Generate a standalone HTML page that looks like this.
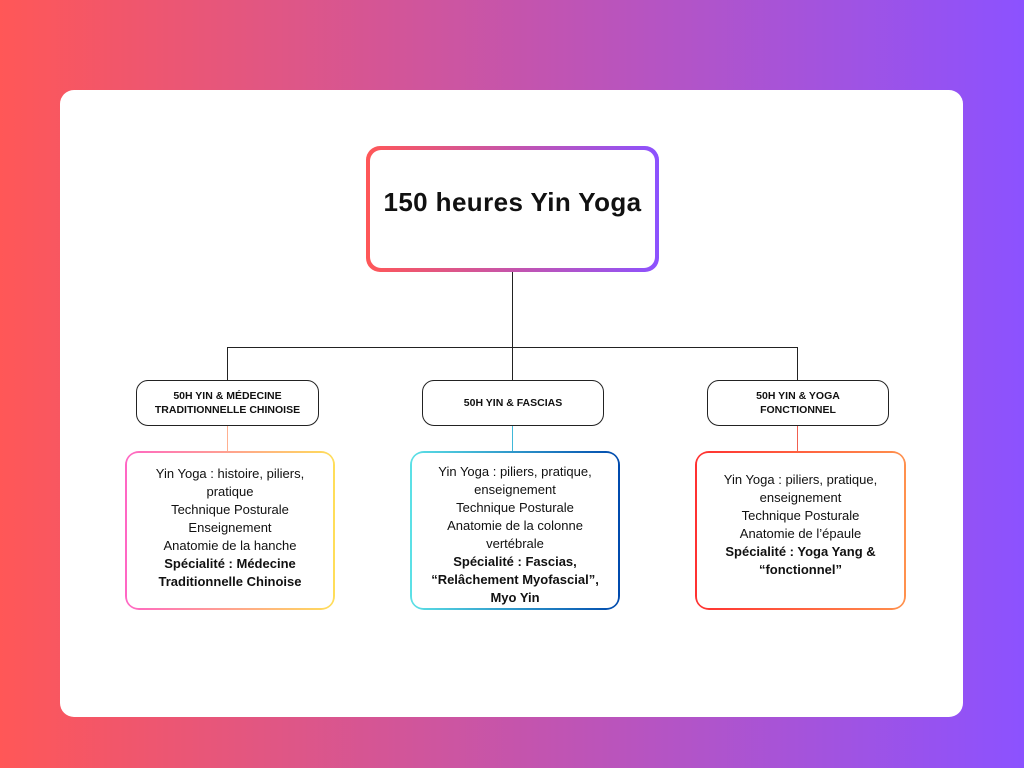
<!DOCTYPE html>
<html><head><meta charset="utf-8"><style>
*{margin:0;padding:0;box-sizing:border-box}
body{width:1024px;height:768px;background:linear-gradient(90deg,#ff5757,#8c52ff);position:relative;overflow:hidden;font-family:"Liberation Sans","DejaVu Sans",sans-serif;color:#111}
.card{position:absolute;left:60px;top:90px;width:903px;height:627px;background:#fff;border-radius:14px}
.gb{position:absolute;border-radius:14px;padding:3px}
.gb>div{background:#fff;width:100%;height:100%;border-radius:11px;display:flex;flex-direction:column;align-items:center;text-align:center}
.l2{position:absolute;top:380px;height:46px;border:1px solid #222;border-radius:12px;background:#fff;display:flex;align-items:center;justify-content:center;text-align:center;font-weight:bold;font-size:10.5px;line-height:14px}
.ln{position:absolute;background:#222}
.txt{font-size:13px;line-height:18px;padding-top:12px}
b{font-weight:bold}
</style></head><body>
<div class="card"></div>
<div class="gb" style="left:366px;top:146px;width:293px;height:126px;background:linear-gradient(90deg,#ff5757,#8c52ff);padding:4px"><div style="justify-content:center;font-weight:bold;font-size:26px;letter-spacing:0.4px;padding-bottom:14px">150 heures Yin Yoga</div></div>
<div class="ln" style="left:512px;top:272px;width:1px;height:108px"></div>
<div class="ln" style="left:227px;top:347px;width:571px;height:1px"></div>
<div class="ln" style="left:227px;top:347px;width:1px;height:33px"></div>
<div class="ln" style="left:797px;top:347px;width:1px;height:33px"></div>
<div class="l2" style="left:136px;width:183px">50H YIN &amp; MÉDECINE<br>TRADITIONNELLE CHINOISE</div>
<div class="l2" style="left:422px;width:182px">50H YIN &amp; FASCIAS</div>
<div class="l2" style="left:707px;width:182px">50H YIN &amp; YOGA<br>FONCTIONNEL</div>
<div class="ln" style="left:227px;top:426px;width:1px;height:26px;background:#ffb090"></div>
<div class="ln" style="left:512px;top:426px;width:1px;height:26px;background:#40b8d8"></div>
<div class="ln" style="left:797px;top:426px;width:1px;height:26px;background:#f06050"></div>
<div class="gb" style="left:125px;top:451px;width:210px;height:159px;padding:2px;background:linear-gradient(90deg,#ff66c4,#ffde59)"><div class="txt">Yin Yoga : histoire, piliers,<br>pratique<br>Technique Posturale<br>Enseignement<br>Anatomie de la hanche<br><b>Spécialité : Médecine<br>Traditionnelle Chinoise</b></div></div>
<div class="gb" style="left:410px;top:451px;width:210px;height:159px;padding:2px;background:linear-gradient(90deg,#5ce1e6,#004aad)"><div class="txt" style="padding-top:10px">Yin Yoga : piliers, pratique,<br>enseignement<br>Technique Posturale<br>Anatomie de la colonne<br>vertébrale<br><b>Spécialité : Fascias,<br>“Relâchement Myofascial”,<br>Myo Yin</b></div></div>
<div class="gb" style="left:695px;top:451px;width:211px;height:159px;padding:2px;background:linear-gradient(90deg,#ff3131,#ff914d)"><div class="txt" style="padding-top:18px">Yin Yoga : piliers, pratique,<br>enseignement<br>Technique Posturale<br>Anatomie de l’épaule<br><b>Spécialité : Yoga Yang &amp;<br>“fonctionnel”</b></div></div>
</body></html>
